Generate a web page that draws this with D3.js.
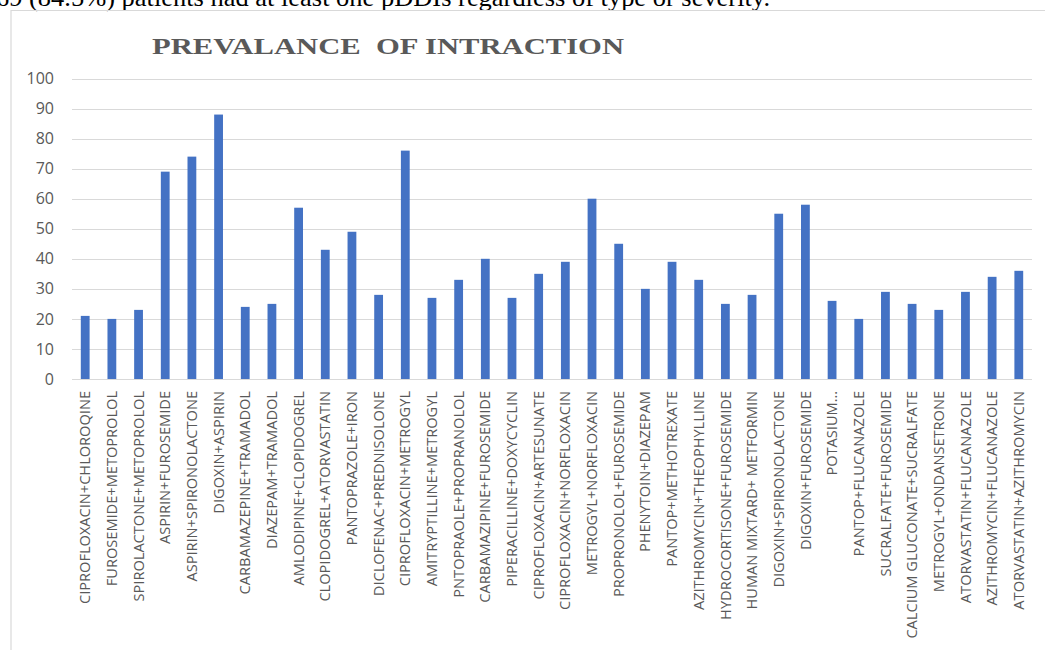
<!DOCTYPE html>
<html>
<head>
<meta charset="utf-8">
<script src="https://cdn.jsdelivr.net/npm/d3@7/dist/d3.min.js"></script>
<style>
  body { margin: 0; background: #fff; }
  svg { display: block; }
</style>
</head>
<body>
<div id="chart"></div>
<script>
var width = 1045,
    height = 650;

var categories = [
  "CIPROFLOXACIN+CHLOROQINE", "FUROSEMIDE+METOPROLOL", "SPIROLACTONE+METOPROLOL",
  "ASPIRIN+FUROSEMIDE", "ASPIRIN+SPIRONOLACTONE", "DIGOXIN+ASPIRIN",
  "CARBAMAZEPINE+TRAMADOL", "DIAZEPAM+TRAMADOL", "AMLODIPINE+CLOPIDOGREL",
  "CLOPIDOGREL+ATORVASTATIN", "PANTOPRAZOLE+IRON", "DICLOFENAC+PREDNISOLONE",
  "CIPROFLOXACIN+METROGYL", "AMITRYPTILLINE+METROGYL", "PNTOPRAOLE+PROPRANOLOL",
  "CARBAMAZIPINE+FUROSEMIDE", "PIPERACILLINE+DOXYCYCLIN", "CIPROFLOXACIN+ARTESUNATE",
  "CIPROFLOXACIN+NORFLOXACIN", "METROGYL+NORFLOXACIN", "PROPRONOLOL+FUROSEMIDE",
  "PHENYTOIN+DIAZEPAM", "PANTOP+METHOTREXATE", "AZITHROMYCIN+THEOPHYLLINE",
  "HYDROCORTISONE+FUROSEMIDE", "HUMAN MIXTARD+ METFORMIN", "DIGOXIN+SPIRONOLACTONE",
  "DIGOXIN+FUROSEMIDE", "POTASIUM…", "PANTOP+FLUCANAZOLE",
  "SUCRALFATE+FUROSEMIDE", "CALCIUM GLUCONATE+SUCRALFATE", "METROGYL+ONDANSETRONE",
  "ATORVASTATIN+FLUCANAZOLE", "AZITHROMYCIN+FLUCANAZOLE", "ATORVASTATIN+AZITHROMYCIN"
];

var values = [
  21, 20, 23, 69, 74, 88, 24, 25, 57, 43, 49, 28,
  76, 27, 33, 40, 27, 35, 39, 60, 45, 30, 39, 33,
  25, 28, 55, 58, 26, 20, 29, 25, 23, 29, 34, 36
];

var yTicks = [0, 10, 20, 30, 40, 50, 60, 70, 80, 90, 100];

var title = "PREVALANCE  OF INTRACTION";
var topLine = "69 (84.5%) patients had at least one pDDIs regardless of type or severity.";

var data = categories.map(function(c, i) { return { name: c, value: values[i] }; });

var svg = d3.select("#chart").append("svg")
    .attr("width", width)
    .attr("height", height);

// text of the page above the chart, cut by the crop
svg.append("text")
    .attr("x", -4)
    .attr("y", 6)
    .attr("font-family", "Liberation Serif, Times New Roman, serif")
    .attr("font-size", 25)
    .attr("fill", "#000")
    .attr("textLength", 774)
    .attr("lengthAdjust", "spacingAndGlyphs")
    .text(topLine);

// chart frame
svg.append("path")
    .attr("d", "M11,651 L11,10.5 L1046,10.5")
    .attr("fill", "none")
    .attr("stroke", "#d9d9d9")
    .attr("stroke-width", 1.2);

var x = d3.scaleBand()
    .domain(categories)
    .range([72, 1032])
    .paddingInner(0.67)
    .paddingOuter(0.33);

var y = d3.scaleLinear()
    .domain([0, 100])
    .range([379, 78.5]);

// gridlines
svg.append("g")
    .selectAll("line")
    .data(yTicks)
  .enter().append("line")
    .attr("x1", 72)
    .attr("x2", 1032)
    .attr("y1", function(d) { return Math.round(y(d)) + 0.5; })
    .attr("y2", function(d) { return Math.round(y(d)) + 0.5; })
    .attr("stroke", "#d9d9d9")
    .attr("stroke-width", 1);

var yAxis = svg.append("g")
    .attr("transform", "translate(72,0)")
    .call(d3.axisLeft(y).tickValues(yTicks).tickSize(0).tickPadding(18));
yAxis.select(".domain").remove();
yAxis.selectAll("text")
    .attr("font-family", "Open Sans, Liberation Sans, sans-serif")
    .attr("font-size", 16)
    .attr("fill", "#595959");

svg.append("g")
    .selectAll("rect")
    .data(data)
  .enter().append("rect")
    .attr("x", function(d) { return x(d.name); })
    .attr("y", function(d) { return y(d.value); })
    .attr("width", x.bandwidth())
    .attr("height", function(d) { return y(0) - y(d.value); })
    .attr("fill", "#4472c4");

var xAxis = svg.append("g")
    .attr("transform", "translate(0,379)")
    .call(d3.axisBottom(x).tickSize(0).tickPadding(0));
xAxis.select(".domain").remove();
xAxis.selectAll("text")
    .attr("font-family", "Open Sans, Liberation Sans, sans-serif")
    .attr("font-size", 14.6)
    .attr("fill", "#595959")
    .attr("text-anchor", "end")
    .attr("transform", "rotate(-90)")
    .attr("x", -12)
    .attr("y", 0)
    .attr("dy", "0.35em");

svg.append("text")
    .attr("x", 388)
    .attr("y", 54)
    .attr("text-anchor", "middle")
    .attr("font-family", "Liberation Serif, Times New Roman, serif")
    .attr("font-weight", "bold")
    .attr("font-size", 23)
    .attr("fill", "#595959")
    .attr("textLength", 472)
    .attr("lengthAdjust", "spacingAndGlyphs")
    .style("white-space", "pre")
    .text(title);
</script>
</body>
</html>
